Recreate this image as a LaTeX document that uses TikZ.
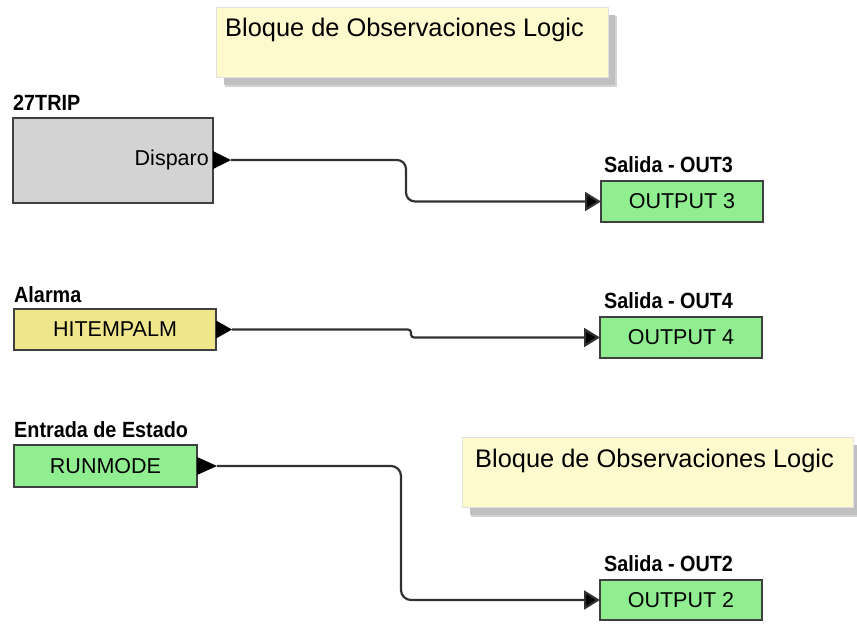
\documentclass[tikz,border=0pt]{standalone}
\usepackage{fontspec}
\setmainfont{Liberation Sans}
\newfontfamily\tagfont{Liberation Sans}[FakeStretch=0.9]
\usetikzlibrary{arrows.meta,calc}

\definecolor{blockgray}{RGB}{211,211,211}
\definecolor{alarmfill}{RGB}{240,230,140}
\definecolor{iofill}{RGB}{144,238,144}
\definecolor{notefill}{RGB}{255,249,206}
\definecolor{edgegray}{RGB}{64,64,64}
\definecolor{wiregray}{RGB}{50,50,50}
\definecolor{shadowgray}{RGB}{192,192,192}

\tikzset{
  x=1pt, y=-1pt,
  blockbox/.style={draw=edgegray, line width=2pt, inner sep=0pt, outer sep=0pt,
    font=\fontsize{21.5}{24}\selectfont},
  iobox/.style={blockbox, fill=iofill, minimum width=162pt, minimum height=41pt},
  tagtext/.style={inner sep=0pt, anchor=base west,
    font=\tagfont\bfseries\fontsize{22}{24}\selectfont},
  notebox/.style={fill=notefill, draw=white!88!black, line width=0.8pt,
    minimum width=392pt, minimum height=70pt, inner sep=0pt, anchor=north west},
  notetext/.style={inner sep=0pt, anchor=base west, font=\fontsize{25.4}{28}\selectfont},
  porttip/.style={fill=black},
  wire/.style={draw=wiregray, line width=2.2pt,
    -{Triangle[length=16pt,width=19pt,fill=black]}},
}

\begin{document}
\begin{tikzpicture}
\useasboundingbox (0,0) rectangle (857,624);

% ---------- comment blocks ----------
\fill[shadowgray!70] (225,16) rectangle (617,87);
\fill[shadowgray] (224,15) rectangle (615,85);
\node[notebox] (note1) at (216,7) {};
\node[notetext] (note1txt) at (225,36) {Bloque de Observaciones Logic};

\fill[shadowgray!70] (471,446) rectangle (857,517);
\fill[shadowgray] (470,445) rectangle (857,515);
\node[notebox, minimum width=391pt] (note2) at (462,437) {};
\node[notetext] (note2txt) at (475,467) {Bloque de Observaciones Logic};

% ---------- source blocks ----------
\node[blockbox, fill=blockgray, minimum width=200pt, minimum height=85pt] (trip) at (113,160.5) {};
\node[tagtext] (triptag) at (13,110) {27TRIP};
\node[inner sep=0pt, anchor=east, font=\fontsize{21.5}{24}\selectfont] (disparo) at (209,160) {Disparo};
\coordinate (tripport) at (231,160);
\fill[porttip] (trip.east |- tripport) ++(0,-9) -- (tripport) -- ($(trip.east |- tripport)+(0,9)$) -- cycle;

\node[blockbox, fill=alarmfill, minimum width=202pt, minimum height=41pt] (alarm) at (115,329.5) {HITEMPALM};
\node[tagtext] (alarmtag) at (14,302) {Alarma};
\coordinate (alarmport) at (232,329.5);
\fill[porttip] (alarm.east |- alarmport) ++(0,-9) -- (alarmport) -- ($(alarm.east |- alarmport)+(0,9)$) -- cycle;

\node[blockbox, fill=iofill, minimum width=183pt, minimum height=42pt] (run) at (105.5,466) {RUNMODE};
\node[tagtext] (runtag) at (14,437) {Entrada de Estado};
\coordinate (runport) at (217,466);
\fill[porttip] (run.east |- runport) ++(0,-9) -- (runport) -- ($(run.east |- runport)+(0,9)$) -- cycle;

% ---------- outputs ----------
\node[iobox] (out3) at (682,201.5) {OUTPUT 3};
\node[tagtext] (out3tag) at (604,172) {Salida - OUT3};

\node[iobox] (out4) at (681,337.5) {OUTPUT 4};
\node[tagtext] (out4tag) at (604,308) {Salida - OUT4};

\node[iobox, minimum height=40pt] (out2) at (681,600) {OUTPUT 2};
\node[tagtext] (out2tag) at (604,571.5) {Salida - OUT2};

% ---------- connections ----------
\coordinate (bend1) at (406,0);
\coordinate (bend2) at (411,0);
\coordinate (bend3) at (401,0);

\draw[wire, rounded corners=9pt] (tripport) -- (tripport -| bend1) -- (out3.west -| bend1) -- (out3.west);
\draw[wire, rounded corners=3pt] (alarmport) -- (alarmport -| bend2) -- (out4.west -| bend2) -- (out4.west);
\draw[wire, rounded corners=10pt] (runport) -- (runport -| bend3) -- (out2.west -| bend3) -- (out2.west);
\end{tikzpicture}
\end{document}
